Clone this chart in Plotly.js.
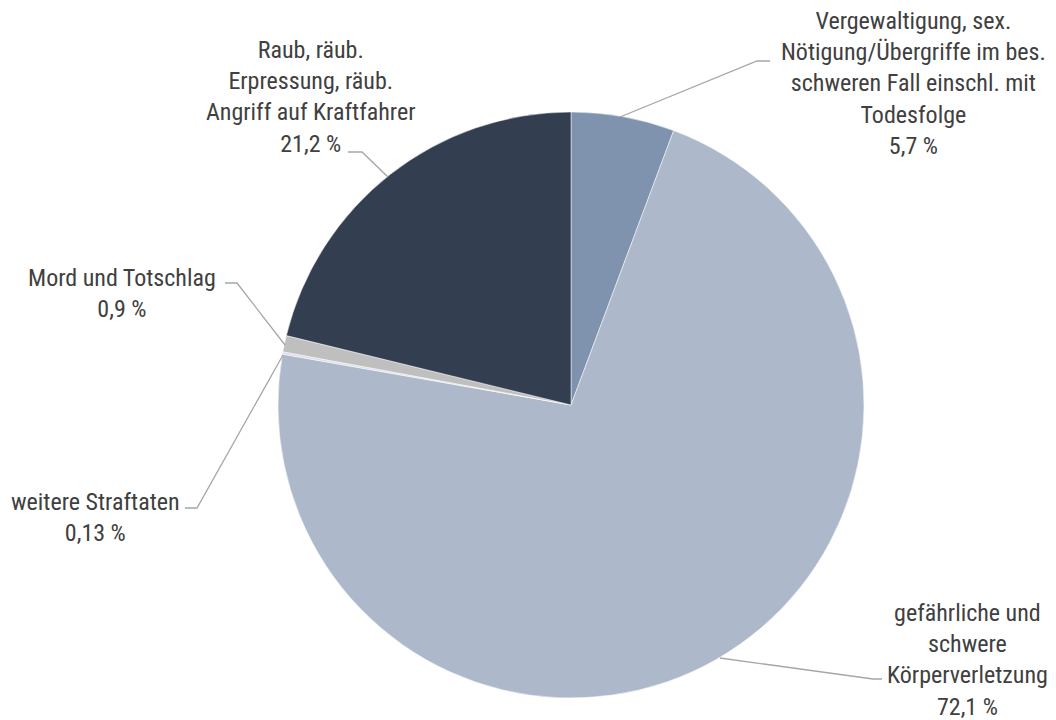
<!DOCTYPE html>
<html>
<head>
<meta charset="utf-8">
<script src="https://cdn.plot.ly/plotly-3.0.1.min.js"></script>
<style>html,body{margin:0;padding:0;background:#fff;}#chart{width:1056px;height:720px;}</style>
</head>
<body>
<div id="chart"></div>
<script>
// Data
const categories = [
  "Vergewaltigung, sex. Nötigung/Übergriffe im bes. schweren Fall einschl. mit Todesfolge",
  "gefährliche und schwere Körperverletzung",
  "weitere Straftaten",
  "Mord und Totschlag",
  "Raub, räub. Erpressung, räub. Angriff auf Kraftfahrer"
];
const values = [5.7, 72.1, 0.13, 0.9, 21.2];
const valueLabels = ["5,7 %", "72,1 %", "0,13 %", "0,9 %", "21,2 %"];
const labelLines = [
  ["Vergewaltigung, sex.", "Nötigung/Übergriffe im bes.", "schweren Fall einschl. mit", "Todesfolge"],
  ["gefährliche und", "schwere", "Körperverletzung"],
  ["weitere Straftaten"],
  ["Mord und Totschlag"],
  ["Raub, räub.", "Erpressung, räub.", "Angriff auf Kraftfahrer"]
];
const colors = ["#7f93ae", "#adb9cb", "#d9dfe8", "#bfbfbf", "#333f50"];

// Layout helpers (pixel -> paper)
const W = 1056, H = 720;
const px = x => x / W;
const py = y => 1 - y / H;

const cx = 571, cy = 405, r = 293;

// label block positions (pixels) and leader lines
const labelPos = [[913, 83], [967, 660], [95, 517], [122, 293], [310, 97]];
const leaders = [
  [[770, 61], [757, 61], [620, 117]],
  [[882, 679], [873, 679], [720, 658]],
  [[185, 508], [197, 508], [283, 355]],
  [[225, 283], [237, 283], [285, 345]],
  [[348, 152], [362, 152], [388, 177]]
];

const fontFam = "'Liberation Sans Narrow', 'Arial Narrow', 'Roboto Condensed', 'Liberation Sans', Arial, sans-serif";

const annotations = labelLines.map((lines, i) => ({
  xref: "paper", yref: "paper",
  x: px(labelPos[i][0]), y: py(labelPos[i][1]),
  xanchor: "center", yanchor: "middle",
  text: lines.concat([valueLabels[i]]).join("<br>"),
  showarrow: false,
  align: "center",
  font: {family: fontFam, size: 24, color: "#404040"}
}));

const shapes = leaders.map(pts => ({
  type: "path", xref: "paper", yref: "paper",
  path: pts.map((p, k) => (k === 0 ? "M" : "L") + px(p[0]) + "," + py(p[1])).join(" "),
  line: {color: "#a6a6a6", width: 1.3}
}));

const trace = {
  type: "pie",
  labels: categories,
  values: values,
  sort: false,
  direction: "clockwise",
  rotation: 0,
  textinfo: "none",
  hoverinfo: "label+percent",
  marker: {colors: colors, line: {color: "#ffffff", width: 0.5}},
  domain: {x: [px(cx - r), px(cx + r)], y: [py(cy + r), py(cy - r)]},
  showlegend: false
};

const layout = {
  width: W, height: H,
  margin: {l: 0, r: 0, t: 0, b: 0},
  paper_bgcolor: "#ffffff",
  showlegend: false,
  annotations: annotations,
  shapes: shapes
};

Plotly.newPlot("chart", [trace], layout, {displayModeBar: false, staticPlot: true});
</script>
</body>
</html>
